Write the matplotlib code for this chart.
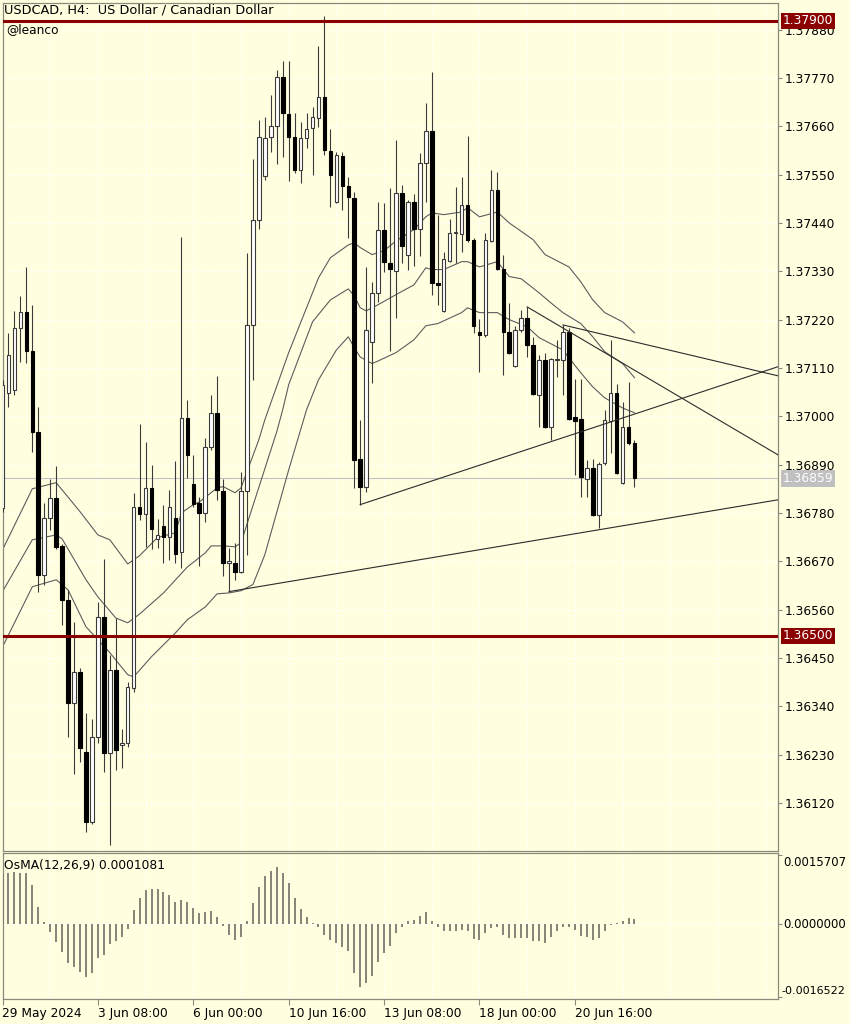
import numpy as np
import matplotlib
matplotlib.use("Agg")
import matplotlib.pyplot as plt
import matplotlib.transforms as mtransforms

# USDCAD H4 candles, bar 0 = 29 May 16:00
opens = [
    1.36792, 1.37054, 1.37060, 1.37201, 1.37238, 1.37149, 1.36965, 1.36639, 1.36769, 1.36815,
    1.36705, 1.36582, 1.36348, 1.36418, 1.36236, 1.36077, 1.36271, 1.36544, 1.36234, 1.36423,
    1.36252, 1.36257, 1.36382, 1.36794, 1.36778, 1.36837, 1.36721, 1.36751, 1.36726, 1.36769,
    1.36692, 1.36997, 1.36846, 1.36803, 1.36780, 1.36931, 1.37008, 1.36830, 1.36667, 1.36667,
    1.36646, 1.36830, 1.37208, 1.37447, 1.37547, 1.37636, 1.37661, 1.37773, 1.37689, 1.37636,
    1.37561, 1.37634, 1.37657, 1.37679, 1.37727, 1.37604, 1.37488, 1.37593, 1.37525, 1.37497,
    1.36903, 1.36840, 1.37170, 1.37281, 1.37425, 1.37349, 1.37331, 1.37509, 1.37368, 1.37488,
    1.37427, 1.37577, 1.37650, 1.37304, 1.37240, 1.37354, 1.37418, 1.37415, 1.37481, 1.37402,
    1.37192, 1.37186, 1.37399, 1.37516, 1.37336, 1.37192, 1.37115, 1.37197, 1.37224, 1.37163,
    1.37049, 1.37129, 1.36976, 1.37129, 1.37129, 1.37192, 1.36999, 1.36994, 1.36858, 1.36883,
    1.36776, 1.36894, 1.36990, 1.37054, 1.36849, 1.36976, 1.36940]
highs = [
    1.37083, 1.37190, 1.37240, 1.37274, 1.37340, 1.37254, 1.37022, 1.36803, 1.36858, 1.36887,
    1.36710, 1.36605, 1.36532, 1.36428, 1.36325, 1.36312, 1.36578, 1.36676, 1.36457, 1.36541,
    1.36289, 1.36396, 1.36826, 1.36983, 1.36942, 1.36890, 1.36767, 1.36799, 1.36833, 1.36899,
    1.37409, 1.37038, 1.36912, 1.36817, 1.36951, 1.37049, 1.37092, 1.36858, 1.36701, 1.36712,
    1.36874, 1.37372, 1.37586, 1.37675, 1.37682, 1.37732, 1.37789, 1.37809, 1.37809, 1.37691,
    1.37670, 1.37691, 1.37705, 1.37843, 1.37912, 1.37654, 1.37602, 1.37602, 1.37545, 1.37511,
    1.36992, 1.37340, 1.37306, 1.37488, 1.37486, 1.37520, 1.37629, 1.37527, 1.37493, 1.37507,
    1.37600, 1.37714, 1.37784, 1.37459, 1.37374, 1.37450, 1.37522, 1.37545, 1.37638, 1.37406,
    1.37222, 1.37418, 1.37561, 1.37557, 1.37368, 1.37258, 1.37206, 1.37242, 1.37249, 1.37181,
    1.37140, 1.37145, 1.37133, 1.37174, 1.37208, 1.37201, 1.37085, 1.37085, 1.36901, 1.36903,
    1.36896, 1.37015, 1.37174, 1.37074, 1.37033, 1.37079, 1.36947]
lows = [
    1.36783, 1.37022, 1.37049, 1.37124, 1.37122, 1.36919, 1.36601, 1.36617, 1.36742, 1.36698,
    1.36526, 1.36271, 1.36186, 1.36214, 1.36054, 1.36073, 1.36257, 1.36191, 1.36025, 1.36196,
    1.36200, 1.36248, 1.36373, 1.36765, 1.36703, 1.36698, 1.36701, 1.36667, 1.36673, 1.36667,
    1.36655, 1.36860, 1.36794, 1.36660, 1.36760, 1.36924, 1.36810, 1.36637, 1.36601, 1.36628,
    1.36644, 1.36685, 1.37083, 1.37427, 1.37538, 1.37602, 1.37575, 1.37591, 1.37536, 1.37554,
    1.37532, 1.37611, 1.37550, 1.37659, 1.37595, 1.37477, 1.37486, 1.37470, 1.37406, 1.36837,
    1.36799, 1.36828, 1.37076, 1.37261, 1.37329, 1.37149, 1.37224, 1.37349, 1.37334, 1.37343,
    1.37365, 1.37488, 1.37277, 1.37254, 1.37238, 1.37352, 1.37349, 1.37374, 1.37397, 1.37190,
    1.37101, 1.37181, 1.37397, 1.37334, 1.37095, 1.37142, 1.37113, 1.37192, 1.37135, 1.37049,
    1.36976, 1.36974, 1.36947, 1.37090, 1.37049, 1.36992, 1.36867, 1.36817, 1.36817, 1.36774,
    1.36746, 1.36890, 1.36917, 1.36869, 1.36846, 1.36935, 1.36840]
closes = [
    1.37072, 1.37140, 1.37201, 1.37238, 1.37149, 1.36965, 1.36639, 1.36769, 1.36815, 1.36703,
    1.36582, 1.36348, 1.36418, 1.36246, 1.36077, 1.36271, 1.36544, 1.36234, 1.36423, 1.36241,
    1.36257, 1.36384, 1.36794, 1.36778, 1.36837, 1.36744, 1.36730, 1.36726, 1.36794, 1.36687,
    1.36997, 1.36912, 1.36801, 1.36780, 1.36931, 1.37008, 1.36833, 1.36667, 1.36671, 1.36646,
    1.36830, 1.37208, 1.37447, 1.37636, 1.37634, 1.37661, 1.37773, 1.37691, 1.37636, 1.37561,
    1.37634, 1.37654, 1.37682, 1.37727, 1.37607, 1.37550, 1.37595, 1.37525, 1.37500, 1.36901,
    1.36840, 1.37197, 1.37281, 1.37425, 1.37352, 1.37336, 1.37509, 1.37388, 1.37488, 1.37427,
    1.37577, 1.37650, 1.37304, 1.37299, 1.37358, 1.37418, 1.37420, 1.37481, 1.37402, 1.37206,
    1.37186, 1.37402, 1.37516, 1.37336, 1.37192, 1.37145, 1.37197, 1.37224, 1.37163, 1.37051,
    1.37129, 1.36976, 1.37131, 1.37131, 1.37192, 1.36994, 1.36990, 1.36862, 1.36883, 1.36776,
    1.36892, 1.36992, 1.37054, 1.36872, 1.36976, 1.36940, 1.36859]

# three moving-average lines (bar index, price)
upper_bars = [0, 5, 9, 13, 16, 18, 21, 23, 26, 29, 30, 32, 33, 36, 37, 39, 40, 43, 44, 48, 53, 55,
              58, 59, 60, 62, 64, 66, 69, 71, 72, 74, 77, 78, 80, 83, 85, 89, 91, 95, 97, 99, 101, 104, 106]
upper_vals = [1.36696, 1.36835, 1.36849, 1.36783, 1.36730, 1.36719, 1.36664, 1.36683, 1.36724, 1.36735,
              1.36780, 1.36799, 1.36805, 1.36837, 1.36840, 1.36826, 1.36837, 1.36947, 1.36992, 1.37145,
              1.37315, 1.37361, 1.37390, 1.37395, 1.37384, 1.37368, 1.37377, 1.37399, 1.37425, 1.37454,
              1.37463, 1.37459, 1.37465, 1.37475, 1.37454, 1.37465, 1.37440, 1.37402, 1.37368, 1.37340,
              1.37306, 1.37265, 1.37236, 1.37215, 1.37190]
mid_bars = [0, 5, 9, 10, 14, 16, 19, 21, 23, 27, 31, 34, 35, 37, 39, 40, 46, 47, 48, 52, 55, 58, 59,
            60, 61, 63, 66, 69, 71, 72, 74, 77, 78, 80, 83, 85, 87, 90, 92, 94, 97, 99, 101, 104, 106]
mid_vals = [1.36601, 1.36719, 1.36730, 1.36721, 1.36628, 1.36589, 1.36541, 1.36530, 1.36550, 1.36598,
            1.36657, 1.36689, 1.36705, 1.36705, 1.36703, 1.36712, 1.36965, 1.37015, 1.37072, 1.37215,
            1.37265, 1.37290, 1.37274, 1.37247, 1.37240, 1.37254, 1.37277, 1.37299, 1.37338, 1.37334,
            1.37334, 1.37352, 1.37352, 1.37340, 1.37352, 1.37318, 1.37313, 1.37281, 1.37258, 1.37236,
            1.37211, 1.37181, 1.37147, 1.37120, 1.37088]
lower_bars = [0, 5, 9, 11, 14, 18, 21, 22, 25, 29, 31, 34, 36, 38, 40, 42, 44, 48, 51, 53, 56, 58, 59,
              60, 62, 63, 66, 69, 71, 73, 77, 78, 80, 83, 85, 88, 90, 94, 95, 97, 99, 101, 104, 106]
lower_vals = [1.36475, 1.36612, 1.36628, 1.36605, 1.36521, 1.36462, 1.36412, 1.36407, 1.36453, 1.36507,
              1.36537, 1.36566, 1.36596, 1.36598, 1.36603, 1.36617, 1.36685, 1.36878, 1.37015, 1.37083,
              1.37151, 1.37181, 1.37156, 1.37135, 1.37120, 1.37126, 1.37145, 1.37174, 1.37206, 1.37211,
              1.37236, 1.37247, 1.37236, 1.37236, 1.37220, 1.37204, 1.37179, 1.37151, 1.37133, 1.37099,
              1.37067, 1.37042, 1.37019, 1.37008]

# trendlines: (bar, price) -> (bar, price)
trendlines = [
    ((88, 1.37249), (130.1, 1.36912)),
    ((94, 1.37208), (130.1, 1.37092)),
    ((60, 1.36799), (130.1, 1.37113)),
    ((38, 1.36601), (130.1, 1.36810)),
]
level_high = 1.37900
level_low = 1.36500
last_price = 1.36859

osma = [
    0.00115, 0.00116, 0.00118, 0.00117, 0.00116, 0.00089, 0.00039, 0.00005, -0.00018, -0.00041,
    -0.00064, -0.00089, -0.00098, -0.00109, -0.00120, -0.00111, -0.00077, -0.00070, -0.00045, -0.00039,
    -0.00030, -0.00011, 0.00032, 0.00059, 0.00077, 0.00079, 0.00079, 0.00073, 0.00066, 0.00050,
    0.00054, 0.00050, 0.00036, 0.00025, 0.00027, 0.00030, 0.00016, -0.00005, -0.00025, -0.00036,
    -0.00030, 0.00007, 0.00048, 0.00084, 0.00109, 0.00120, 0.00129, 0.00116, 0.00093, 0.00059,
    0.00034, 0.00016, 0.00002, -0.00007, -0.00025, -0.00036, -0.00043, -0.00052, -0.00061, -0.00111,
    -0.00143, -0.00134, -0.00118, -0.00086, -0.00066, -0.00050, -0.00020, -0.00007, 0.00007, 0.00009,
    0.00018, 0.00027, 0.00007, -0.00007, -0.00016, -0.00016, -0.00016, -0.00014, -0.00016, -0.00034,
    -0.00036, -0.00020, -0.00009, -0.00007, -0.00025, -0.00032, -0.00032, -0.00032, -0.00032, -0.00039,
    -0.00039, -0.00043, -0.00030, -0.00016, -0.00007, -0.00007, -0.00014, -0.00027, -0.00030, -0.00036,
    -0.00032, -0.00016, -0.00002, 0.00002, 0.00007, 0.00014, 0.0001081]

price_ticks = [1.37880, 1.37770, 1.37660, 1.37550, 1.37440, 1.37330, 1.37220, 1.37110, 1.37000,
               1.36890, 1.36780, 1.36670, 1.36560, 1.36450, 1.36340, 1.36230, 1.36120]
osma_ticks = [0.0015707, 0.0, -0.0016522]
time_bars = [0, 16, 32, 48, 64, 80, 96]
time_labels = ["29 May 2024", "3 Jun 08:00", "6 Jun 00:00", "10 Jun 16:00",
               "13 Jun 08:00", "18 Jun 00:00", "20 Jun 16:00"]

W, H = 850, 1024
bg = "#FFFFE0"
frame = "#8a8a7a"
fs = 8.8
fig = plt.figure(figsize=(W / 100, H / 100), dpi=100)
fig.patch.set_facecolor(bg)


def px_box(x0, y0, x1, y1):
    return [x0 / W, 1 - y1 / H, (x1 - x0) / W, (y1 - y0) / H]


ax = fig.add_axes(px_box(2.5, 3, 778, 851))
ax2 = fig.add_axes(px_box(2.5, 853, 778, 999), sharex=ax)
for a in (ax, ax2):
    a.set_facecolor(bg)
    for s in a.spines.values():
        s.set_color(frame)
        s.set_linewidth(0.9)

o = np.array(opens)
h = np.array(highs)
l = np.array(lows)
c = np.array(closes)
idx = np.arange(len(c))
up = c >= o

# grid
for b in range(0, 136, 8):
    ax.axvline(b, color="white", lw=0.8, ls=(0, (2, 2)), zorder=0)
    ax2.axvline(b, color="white", lw=0.8, ls=(0, (2, 2)), zorder=0)
for t in price_ticks:
    ax.axhline(t, color="white", lw=0.8, ls=(0, (2, 2)), zorder=0)
ax2.axhline(0, color="white", lw=0.8, ls=(0, (2, 2)), zorder=0)

ax.axhline(last_price, color="#c0c0c0", lw=0.8, zorder=1)

ax.plot(upper_bars, upper_vals, color="#5c5c5c", lw=0.8, zorder=2)
ax.plot(mid_bars, mid_vals, color="#5c5c5c", lw=0.8, zorder=2)
ax.plot(lower_bars, lower_vals, color="#5c5c5c", lw=0.8, zorder=2)

ax.vlines(idx, l, h, color="#3a3a3a", lw=0.8, zorder=3)
ax.bar(idx[up], (c - o)[up], bottom=o[up], width=0.6, color="white",
       edgecolor="#3a3a3a", linewidth=0.8, zorder=4)
ax.bar(idx[~up], (o - c)[~up], bottom=c[~up], width=0.6, color="black",
       edgecolor="black", linewidth=0.8, zorder=4)

for (x1, y1), (x2, y2) in trendlines:
    ax.plot([x1, x2], [y1, y2], color="#2b2b2b", lw=0.8, zorder=5)

ax.axhline(level_high, color="#8B0000", lw=2.2, zorder=6)
ax.axhline(level_low, color="#8B0000", lw=2.2, zorder=6)

ax.set_xlim(0.17, 130.07)
ax.set_ylim(1.360106, 1.379407)
ax.yaxis.tick_right()
ax.set_yticks(price_ticks)
ax.set_yticklabels([f"{t:.5f}" for t in price_ticks])
ax.tick_params(axis="y", length=3, width=0.8, color=frame, labelsize=fs, pad=2)
ax.tick_params(axis="x", bottom=False, labelbottom=False)

trans = mtransforms.blended_transform_factory(ax.transAxes, ax.transData)
tags = [(level_high, "#8B0000"), (level_low, "#8B0000"), (last_price, "#c0c0c0")]
for val, col in tags:
    ax.text(1.0065, val, f"{val:.5f}", transform=trans, color="white", fontsize=fs,
            ha="left", va="center", clip_on=False, zorder=20,
            bbox=dict(boxstyle="square,pad=0.15", fc=col, ec="none"))

# OsMA panel
ax2.vlines(idx, 0, osma, color="#7a7a6e", lw=1.3, zorder=3)
ax2.set_ylim(-0.001698, 0.001616)
ax2.yaxis.tick_right()
ax2.set_yticks(osma_ticks)
ax2.set_yticklabels([])
ax2.tick_params(axis="y", length=3, width=0.8, color=frame)
ax2.set_xticks(time_bars)
ax2.set_xticklabels(time_labels, ha="left")
ax2.tick_params(axis="x", length=4, width=0.8, color=frame, labelsize=fs, pad=2)

fig.text(783 / W, 1 - 862 / H, f"{osma_ticks[0]:.7f}", fontsize=8.5, va="center")
fig.text(783 / W, 1 - 924 / H, f"{osma_ticks[1]:.7f}", fontsize=8.5, va="center")
fig.text(781 / W, 1 - 991 / H, f"{osma_ticks[2]:.7f}", fontsize=8.0, va="center")

fig.text(4 / W, 1 - 10 / H, "USDCAD, H4:  US Dollar / Canadian Dollar", fontsize=9.3, va="center")
fig.text(6 / W, 1 - 30 / H, "@leanco", fontsize=fs, va="center")
fig.text(4 / W, 1 - 866 / H, "OsMA(12,26,9) 0.0001081", fontsize=fs, va="center")

fig.savefig("out.png", dpi=100, facecolor=bg)
